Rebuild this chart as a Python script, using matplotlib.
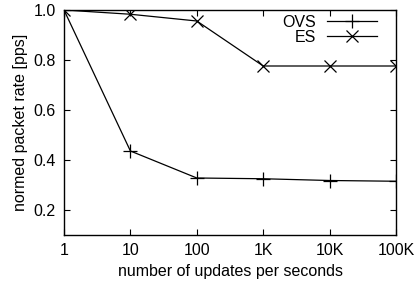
import matplotlib
matplotlib.use('Agg')
import matplotlib.pyplot as plt
import numpy as np

plt.rcParams['font.family'] = ['Liberation Sans', 'DejaVu Sans']
plt.rcParams['font.size'] = 11.5

## datos
x_labels = ['1', '10', '100', '1K', '10K', '100K']
x_vals = [1, 10, 100, 1000, 10000, 100000]
ovs = [1.0, 0.436, 0.328, 0.325, 0.318, 0.315]
es = [1.0, 0.983, 0.956, 0.776, 0.776, 0.776]

fig = plt.figure(figsize=(4.15, 2.91), dpi=100)
ax = fig.add_axes([64/415, 56/291, 332/415, 225/291])

ax.plot(x_vals, ovs, color='black', lw=0.9, marker='+', ms=10, mew=0.9, label='OVS')
ax.plot(x_vals, es, color='black', lw=0.9, marker='x', ms=8, mew=0.9, label='ES')

ax.set_xscale('log')
ax.set_xlim(1, 100000)
ax.set_ylim(0.1, 1.0)
ax.set_xticks(x_vals)
ax.set_xticklabels(x_labels)
ax.minorticks_off()
ax.set_yticks([0.2, 0.4, 0.6, 0.8, 1.0])
ax.set_yticklabels(['0.2', '0.4', '0.6', '0.8', '1.0'])
ax.tick_params(direction='in', top=True, right=True, length=4, width=0.8, pad=6)
for s in ax.spines.values():
    s.set_linewidth(1.0)

ax.set_xlabel('number of updates per seconds', labelpad=4)
ax.set_ylabel('normed packet rate [pps]', labelpad=4)

ax.legend(loc='upper right', frameon=False, markerfirst=False, handlelength=3.1,
          handletextpad=0.7, labelspacing=0.0, borderaxespad=0.0, borderpad=0.2,
          bbox_to_anchor=(0.952, 0.992))

fig.savefig('out.png', dpi=100)
